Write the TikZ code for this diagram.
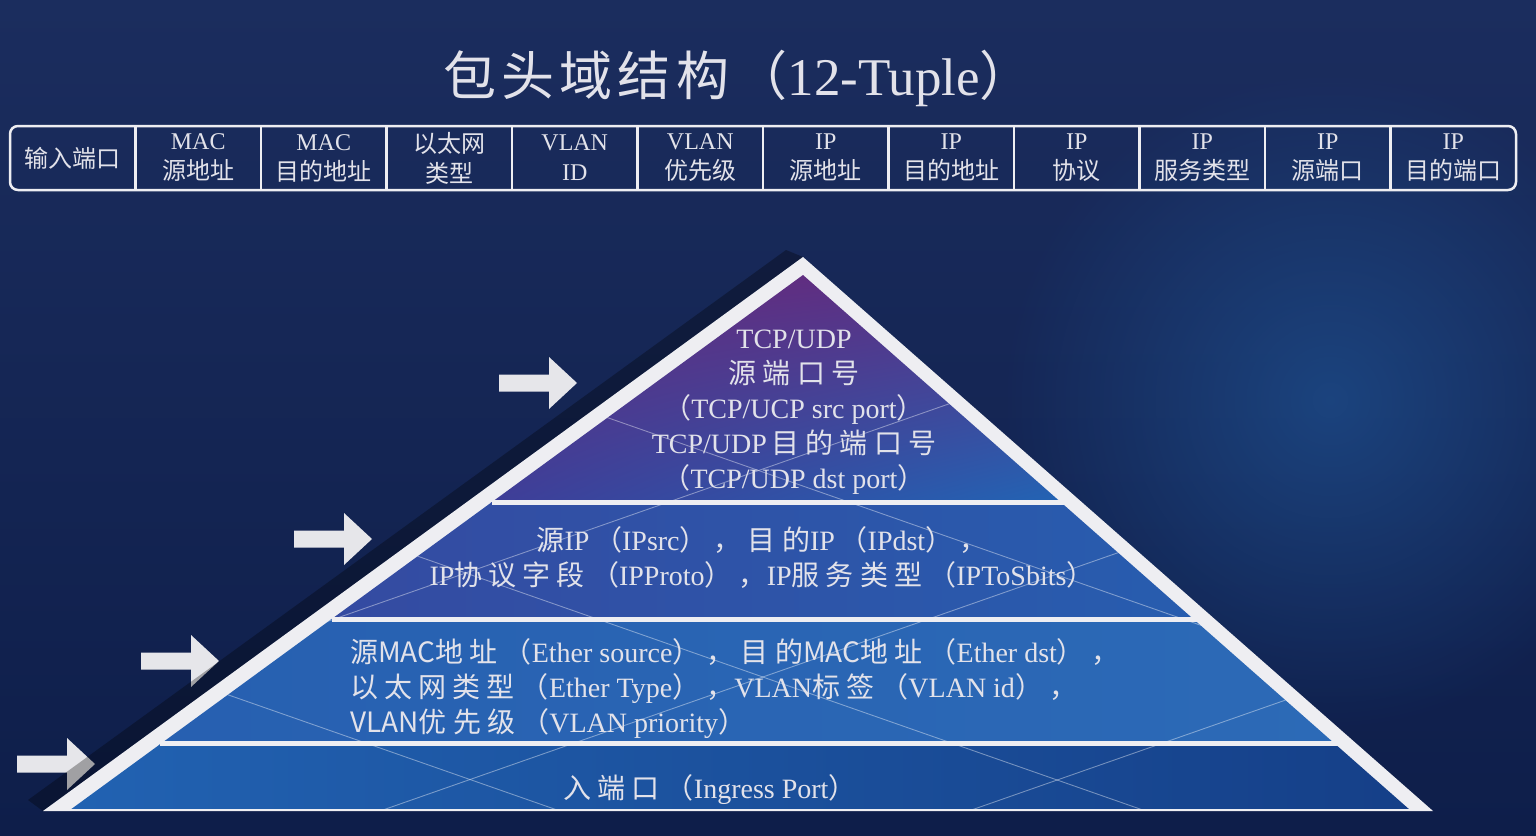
\documentclass[tikz,border=0pt]{standalone}
\usepackage{fontspec}
\usepackage{tikz}
\usetikzlibrary{calc, shadings, fadings}
\setmainfont{Liberation Serif}
\newfontfamily\zhfont{Noto Sans CJK SC}
\newfontfamily\zhtitle[LetterSpace=10]{Noto Sans CJK SC}
\newfontfamily\zhwide[LetterSpace=22]{Noto Sans CJK SC}
\newcommand{\zh}[1]{{\zhfont #1}}
\newcommand{\zw}[1]{{\zhwide #1}}
\definecolor{bgtop}{HTML}{1B2D5E}
\definecolor{bgbot}{HTML}{0E1E4A}
\definecolor{bgglow}{HTML}{1E5090}
\definecolor{inktext}{HTML}{E2E2EA}
\definecolor{rimwhite}{HTML}{EEEEF2}
\definecolor{arrowgray}{HTML}{E6E6EA}
\definecolor{pyrpurple}{HTML}{672A7C}
\definecolor{pyrviolet}{HTML}{3E3E98}
\definecolor{pyrblue}{HTML}{2264B4}
\definecolor{pyrdeep}{HTML}{143C84}
\tikzfading[name=glowfade, inner color=transparent!0, outer color=transparent!100]

\begin{document}
\begin{tikzpicture}[x=1pt, y=-1pt,
    field/.style={text=inktext, align=center, font=\fontsize{24}{30}\selectfont, inner sep=0pt},
    layertext/.style={text=inktext, font=\fontsize{28}{35}\selectfont, inner sep=0pt},
    sepline/.style={rimwhite, line width=5pt},
    gridline/.style={white, opacity=0.4, line width=0.9pt},
    fieldarrow/.style={fill=arrowgray}]
    \useasboundingbox (0,0) rectangle (1536,835);

    % Background
    \shade[top color=bgtop, bottom color=bgbot] (0,0) rectangle (1536,835);
    \fill[bgglow, path fading=glowfade, opacity=0.7] (1330,400) circle (330);

    % Title
    \node[text=inktext, font=\fontsize{53}{60}\selectfont] (title) at (738,78)
      {{\zhtitle 包头域结构（}12-Tuple\zh{）}};

    % 12-tuple header table
    \draw[rimwhite, line width=2.5pt, rounded corners=8pt] (10,126) rectangle (1516,190);
    \foreach \i in {1,...,11}
      \draw[rimwhite, line width=2.5pt] (10+125.5*\i,126) -- (10+125.5*\i,190);
    \foreach \txt [count=\i] in {{\zh{输入端口}}, {MAC\\\zh{源地址}}, {MAC\\\zh{目的地址}},
        {\zh{以太网}\\\zh{类型}}, {VLAN\\ID}, {VLAN\\\zh{优先级}}, {IP\\\zh{源地址}},
        {IP\\\zh{目的地址}}, {IP\\\zh{协议}}, {IP\\\zh{服务类型}}, {IP\\\zh{源端口}},
        {IP\\\zh{目的端口}}}
      \node[field] (fld\i) at (10+125.5*\i-62.75,158) {\txt};

    % Arrows on the left
    \foreach \tx/\ty in {577/383, 372/539, 219/661, 95/764}
      \fill[fieldarrow] (\tx-78,\ty-8.5) -- (\tx-28,\ty-8.5) -- (\tx-28,\ty-26) -- (\tx,\ty)
        -- (\tx-28,\ty+26) -- (\tx-28,\ty+8.5) -- (\tx-78,\ty+8.5) -- cycle;

    % Pyramid shadow and rim
    \fill[black, opacity=0.3] (43,811) -- (803,257) -- (786,250) -- (28,800) -- cycle;
    \fill[rimwhite] (803,257) -- (1433,811) -- (43,811) -- cycle;
    \coordinate (ia) at (803,275);
    \coordinate (il) at (70,810);
    \coordinate (ir) at (1410,810);

    % Layers
    \begin{scope}
      \clip (ia) -- (ir) -- (il) -- cycle;
      \shade[upper left=pyrpurple, upper right=pyrpurple!70!pyrviolet,
             lower left=pyrviolet, lower right=pyrblue] (490,275) rectangle (1065,502);
      \shade[left color=pyrviolet!85!pyrblue, right color=pyrblue] (0,502) rectangle (1536,619);
      \shade[left color=pyrblue!85!pyrviolet, right color=pyrblue!95!white] (0,619) rectangle (1536,744);
      \shade[left color=pyrblue, right color=pyrdeep] (0,744) rectangle (1536,810);
      \foreach \c in {205,410,615}
        \draw[gridline] (0,\c) -- (1536,\c+537.6);
      \foreach \d in {736,944,1150}
        \draw[gridline] (0,\d) -- (1536,\d-537.6);
    \end{scope}

    % Layer borders
    \coordinate (s1l) at ($(ia)!0.4243!(il)$);
    \coordinate (s1r) at ($(ia)!0.4243!(ir)$);
    \coordinate (s2l) at ($(ia)!0.643!(il)$);
    \coordinate (s2r) at ($(ia)!0.643!(ir)$);
    \coordinate (s3l) at ($(ia)!0.8766!(il)$);
    \coordinate (s3r) at ($(ia)!0.8766!(ir)$);
    \draw[sepline] (s1l) -- ([xshift=6pt]s1r);
    \draw[sepline] (s2l) -- ([xshift=6pt]s2r);
    \draw[sepline] (s3l) -- ([xshift=6pt]s3r);
    \draw[rimwhite, line width=2.5pt] (il) -- (ir);

    % Layer texts
    \node[layertext, align=center] (lyrports) at (794,412)
      {TCP/UDP\\ \zw{源端口号}\\ \zw{（}TCP/UCP src port\zw{）}\\
       TCP/UDP\,\zw{目的端口号}\\ \zw{（}TCP/UDP dst port\zw{）}};
    \node[layertext, align=center] (lyrip) at (762,558)
      {\zw{源}IP\,\zw{（}IPsrc\zw{），目的}IP\,\zw{（}IPdst\zw{），}\\
       IP\zw{协议字段（}IPProto\zw{），}IP\zw{服务类型（}IPToSbits\zw{）}};
    \node[layertext, align=left, anchor=west] (lyrmac) at (350,689)
      {\zw{源}\zh{MAC}\zw{地址（}Ether source\zw{），目的}\zh{MAC}\zw{地址（}Ether dst\zw{），}\\
       \zw{以太网类型（}Ether Type\zw{），}VLAN\zw{标签（}VLAN id\zw{），}\\
       \zh{VLAN}\zw{优先级（}VLAN priority\zw{）}};
    \node[layertext] (lyrin) at (710,790) {\zw{入端口（}Ingress Port\zw{）}};
  \end{tikzpicture}
\end{document}
